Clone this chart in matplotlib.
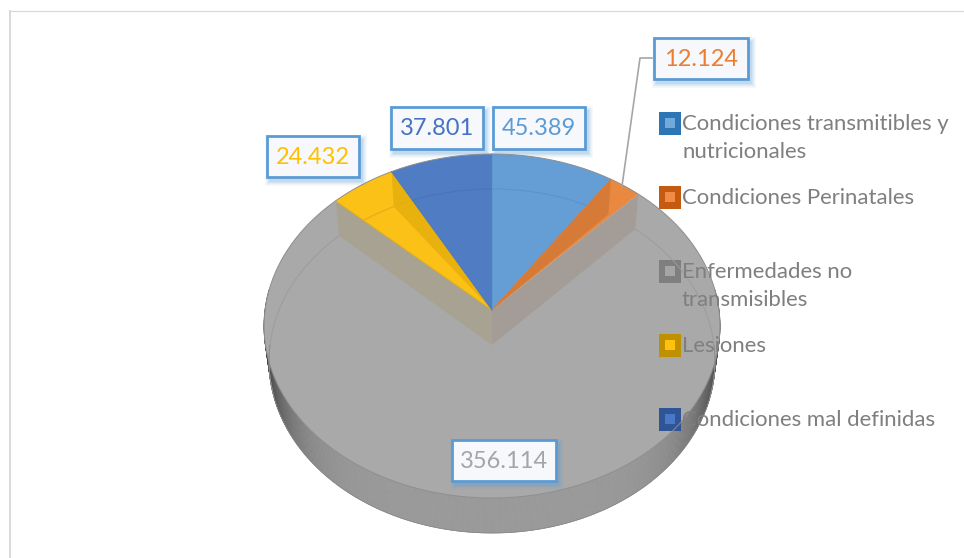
import numpy as np
import matplotlib
matplotlib.use("Agg")
import matplotlib.pyplot as plt
from matplotlib.patches import Polygon, Rectangle
from matplotlib.collections import PolyCollection

plt.rcParams['font.family'] = ['Lato', 'DejaVu Sans']

categories = ["Condiciones transmitibles y\nnutricionales", "Condiciones Perinatales",
              "Enfermedades no\ntransmisibles", "Lesiones", "Condiciones mal definidas"]
values = [45389, 12124, 356114, 24432, 37801]
face_colors = ["#659ED5", "#E9883F", "#A9A9A9", "#FBC117", "#4F7CC2"]
wall_colors = ["#5F98CE", "#D67A38", "#A69F96", "#E8B10E", "#4A75BA"]
label_colors = ["#5B9BD5", "#ED7D31", "#A5A5A5", "#FFC000", "#4472C4"]
swatch_outer = ["#2E75B6", "#C55A11", "#7F7F7F", "#BF9000", "#2F5597"]
swatch_inner = ["#72A9DB", "#F08C45", "#A5A5A5", "#FFC010", "#4A78C8"]

# pie geometry, in pixels of the picture
cx = 492
top_y, bottom_y = 310, 345
top_a, bottom_a = 227, 222
b, k = 170.5, 0.093


def project(theta, a, cy):
    u = np.sin(theta)
    v = np.cos(theta)
    w = 1 + k * v
    return np.column_stack((cx + a * u / w, cy - b * v / w))


def top(theta):
    return project(theta, top_a, top_y)


def bottom(theta):
    return project(theta, bottom_a, bottom_y)


fig = plt.figure(figsize=(9.64, 5.58), dpi=100)
ax = fig.add_axes([0, 0, 1, 1])
ax.set_xlim(0, 964)
ax.set_ylim(558, 0)
ax.axis("off")

# chart frame
ax.plot([10, 10], [558, 10.5], color="#D9D9D9", lw=1.4)
ax.plot([9, 964], [10.5, 10.5], color="#D9D9D9", lw=0.9)

edges = np.cumsum([0] + values) / sum(values) * 2 * np.pi

# outer rim, dark towards the sides
rim_t = np.linspace(np.pi / 2 - 0.12, 3 * np.pi / 2 + 0.12, 361)
rim_top = top(rim_t)
rim_bot = bottom(rim_t)
quads, shades = [], []
for i in range(len(rim_t) - 1):
    quads.append([rim_top[i], rim_top[i + 1], rim_bot[i + 1], rim_bot[i]])
    s = abs(np.sin(rim_t[i]))
    g = 0.60 - 0.35 * s ** 6
    shades.append((g, g, g))
ax.add_collection(PolyCollection(quads, facecolors=shades, edgecolors=shades, linewidths=0.5))

# top faces
apex_top = np.array([[cx, top_y]])
apex_bot = np.array([[cx, bottom_y]])
slices = []
for i in range(len(values)):
    t = np.linspace(edges[i], edges[i + 1], 200)
    pts = np.vstack((apex_top, top(t)))
    slices.append(ax.add_patch(Polygon(pts, closed=True, fc=face_colors[i], ec="none")))

# far arc, only inside each slice
arc_cols = ["#5A94CB", "#D67A38", "#9C9C9C", "#E0AE1C", "#4A75BA"]
for i in (0, 3, 4):
    t = np.linspace(edges[i] - 0.4, edges[i + 1] + 0.4, 200)
    p = bottom(t)
    line, = ax.plot(p[:, 0], p[:, 1], color=arc_cols[i], lw=0.8)
    line.set_clip_path(slices[i])
for t in (np.linspace(edges[2], np.pi / 2 + 0.3, 80), np.linspace(3 * np.pi / 2 - 0.3, edges[3], 80)):
    p = bottom(t)
    ax.plot(p[:, 0], p[:, 1], color=arc_cols[2], lw=0.7)

# walls of the big slice
for t0, col in ((edges[2], "#A49D97"), (edges[3], "#A8A292")):
    t = np.array([t0])
    pts = np.vstack((apex_top, top(t), bottom(t), apex_bot))
    ax.add_patch(Polygon(pts, closed=True, fc=col, ec="none"))

# inner wall seen through the orange and yellow slices
for i, t0 in ((1, edges[1]), (3, edges[4])):
    t = np.array([t0])
    pts = np.vstack((apex_top, top(t), bottom(t)))
    ax.add_patch(Polygon(pts, closed=True, fc=wall_colors[i], ec="none"))

# outlines
t = np.linspace(0, 2 * np.pi, 500)
p = top(t)
ax.plot(p[:, 0], p[:, 1], color="#8E8E8E", lw=0.7)
t = np.linspace(np.pi / 2, 3 * np.pi / 2, 300)
p = bottom(t)
ax.plot(p[:, 0], p[:, 1], color="#8A8A8A", lw=0.6)
for i in (0, 1, 3, 4):
    p = top(np.array([edges[i]]))[0]
    ax.plot([cx, p[0]], [top_y, p[1]], color=wall_colors[i], lw=0.7)

# leader line of the small slice
ax.plot([652, 640, 622], [58, 58, 186], color="#A6A6A6", lw=1.2)

# data labels
label_boxes = [(493, 107, 92, 42), (654, 38, 94, 41), (452, 440, 104, 41),
               (267, 136, 92, 41), (391, 107, 92, 42)]
for val, col, (x, y, w, h) in zip(values, label_colors, label_boxes):
    for grow, alpha in ((5, 0.05), (4, 0.06), (3, 0.08), (2, 0.1), (1, 0.12)):
        ax.add_patch(Rectangle((x + 3 - grow, y + 4 - grow), w + 2 * grow, h + 2 * grow,
                               fc="#5B9BD5", ec="none", alpha=alpha))
    ax.add_patch(Rectangle((x, y), w, h, fc="#F6F8FB", ec="#5B9BD5", lw=2.0))
    txt = f"{val:,}".replace(",", ".")
    ax.text(x + w / 2, y + h / 2 + 0.5, txt, color=col, fontsize=17, ha="center", va="center")

# legend
legend_y = [123, 197, 271, 345, 419]
for name, y, outer, inner in zip(categories, legend_y, swatch_outer, swatch_inner):
    ax.add_patch(Rectangle((658.5, y - 11.5), 22.5, 23, fc=outer, ec="none"))
    ax.add_patch(Rectangle((664.5, y - 5), 10, 10, fc=inner, ec="none"))
    ax.text(682, y - 9, name, color="#7F7F7F", fontsize=15.9, ha="left", va="top", linespacing=1.47)

fig.savefig("out.png", dpi=100)
